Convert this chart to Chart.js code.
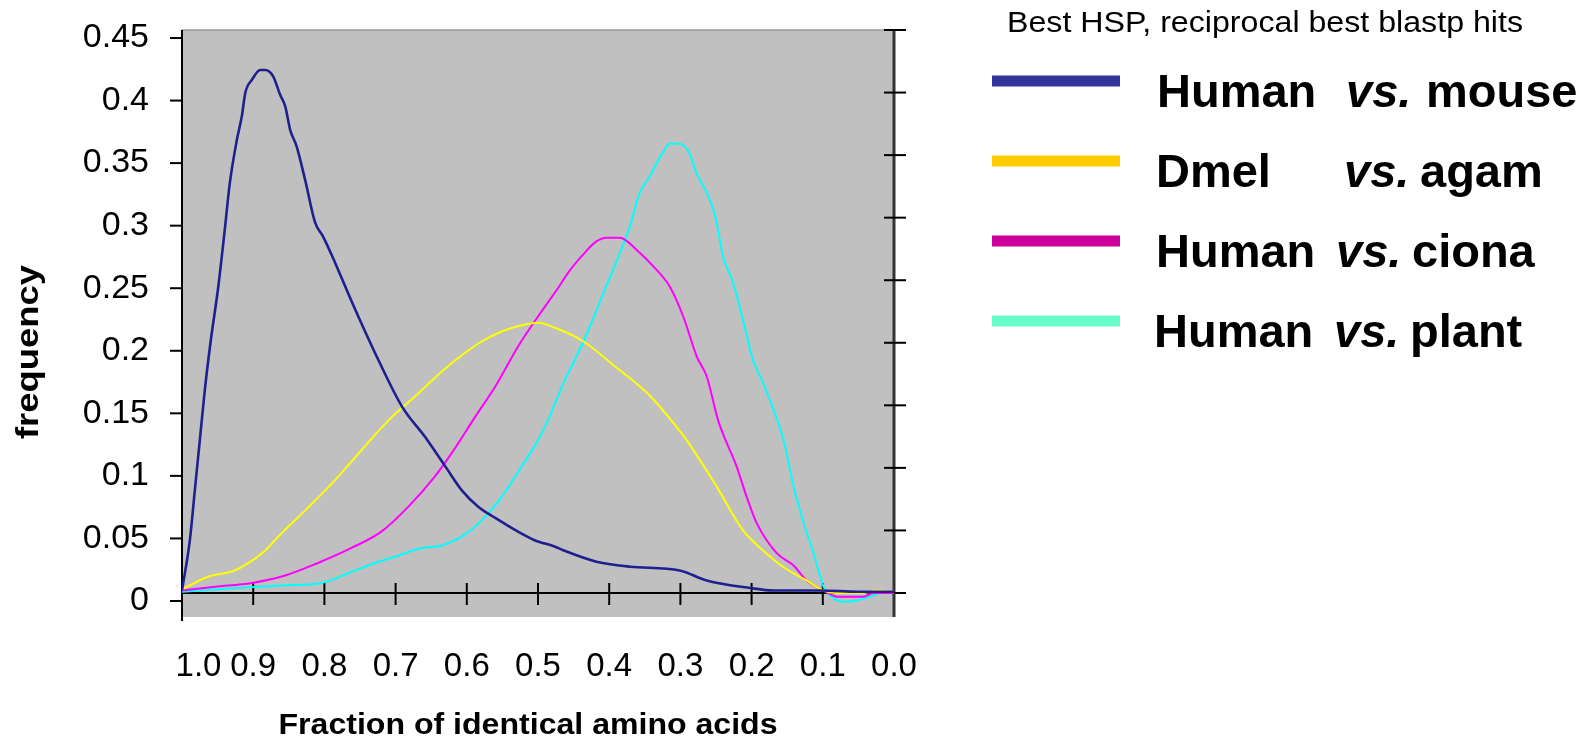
<!DOCTYPE html>
<html>
<head>
<meta charset="utf-8">
<script src="https://cdn.jsdelivr.net/npm/chart.js@4.4.1/dist/chart.umd.min.js"></script>
<style>
  html, body { margin: 0; padding: 0; background: #fff; }
  #wrap { width: 1587px; height: 740px; position: relative; }
</style>
</head>
<body>
<div id="wrap"><canvas id="grafico"></canvas></div>
<script>
// ---- datos (fracción de aminoácidos idénticos -> frecuencia) ----
const mouseX = [1.0, 0.989, 0.982, 0.975, 0.968, 0.96, 0.949, 0.94, 0.933, 0.923, 0.916, 0.911, 0.902, 0.89, 0.883, 0.872, 0.862, 0.855, 0.848, 0.839, 0.827, 0.813, 0.802, 0.785, 0.767, 0.75, 0.724, 0.691, 0.659, 0.63, 0.607, 0.584, 0.56, 0.528, 0.504, 0.476, 0.464, 0.418, 0.371, 0.301, 0.263, 0.202, 0.169, 0.103, 0.05, 0.0];
const mouseY = [0.002, 0.042, 0.082, 0.122, 0.162, 0.2, 0.245, 0.29, 0.327, 0.362, 0.381, 0.4, 0.41, 0.418, 0.418, 0.413, 0.398, 0.389, 0.37, 0.357, 0.33, 0.296, 0.285, 0.264, 0.24, 0.218, 0.186, 0.149, 0.125, 0.101, 0.082, 0.069, 0.06, 0.049, 0.042, 0.037, 0.034, 0.025, 0.021, 0.018, 0.01, 0.004, 0.002, 0.002, 0.001, 0.001];

const dmelX = [1.0, 0.963, 0.926, 0.904, 0.883, 0.865, 0.827, 0.787, 0.762, 0.71, 0.673, 0.635, 0.607, 0.579, 0.551, 0.523, 0.5, 0.476, 0.436, 0.394, 0.347, 0.31, 0.291, 0.249, 0.212, 0.184, 0.156, 0.123, 0.099, 0.08, 0.044, 0.024, 0.0];
const dmelY = [0.003, 0.013, 0.018, 0.025, 0.034, 0.045, 0.066, 0.089, 0.105, 0.138, 0.157, 0.177, 0.19, 0.201, 0.209, 0.214, 0.216, 0.212, 0.201, 0.182, 0.16, 0.136, 0.122, 0.085, 0.05, 0.034, 0.021, 0.01, 0.002, 0.0, 0.0, 0.002, 0.001];

const cionaX = [1.0, 0.954, 0.902, 0.855, 0.809, 0.762, 0.72, 0.682, 0.645, 0.621, 0.588, 0.56, 0.528, 0.5, 0.474, 0.455, 0.439, 0.418, 0.404, 0.385, 0.361, 0.333, 0.315, 0.296, 0.277, 0.263, 0.247, 0.221, 0.207, 0.193, 0.165, 0.141, 0.123, 0.099, 0.08, 0.043, 0.029, 0.0];
const cionaY = [0.002, 0.005, 0.008, 0.014, 0.024, 0.036, 0.049, 0.069, 0.093, 0.112, 0.141, 0.165, 0.197, 0.221, 0.242, 0.258, 0.269, 0.281, 0.284, 0.284, 0.274, 0.258, 0.245, 0.221, 0.189, 0.173, 0.138, 0.101, 0.077, 0.056, 0.032, 0.022, 0.01, 0.002, -0.003, -0.003, 0.0, 0.0];

const plantX = [1.0, 0.949, 0.893, 0.86, 0.804, 0.766, 0.729, 0.701, 0.663, 0.635, 0.607, 0.579, 0.551, 0.523, 0.5, 0.486, 0.464, 0.446, 0.427, 0.408, 0.389, 0.371, 0.357, 0.343, 0.324, 0.315, 0.301, 0.287, 0.277, 0.263, 0.251, 0.24, 0.226, 0.212, 0.198, 0.184, 0.155, 0.141, 0.127, 0.113, 0.099, 0.088, 0.071, 0.052, 0.029, 0.015, 0.0];
const plantY = [0.001, 0.003, 0.005, 0.006, 0.008, 0.016, 0.024, 0.029, 0.036, 0.038, 0.045, 0.058, 0.077, 0.101, 0.122, 0.138, 0.168, 0.189, 0.213, 0.24, 0.266, 0.293, 0.32, 0.333, 0.353, 0.359, 0.359, 0.351, 0.335, 0.32, 0.301, 0.269, 0.248, 0.218, 0.186, 0.168, 0.122, 0.085, 0.056, 0.032, 0.005, -0.003, -0.007, -0.006, -0.002, 0.001, 0.001];

const yTicks = [0, 0.05, 0.1, 0.15, 0.2, 0.25, 0.3, 0.35, 0.4, 0.45];
const yTickLabels = ['0', '0.05', '0.1', '0.15', '0.2', '0.25', '0.3', '0.35', '0.4', '0.45'];
const xTicks = [1.0, 0.9, 0.8, 0.7, 0.6, 0.5, 0.4, 0.3, 0.2, 0.1, 0.0];

const seriesNames = ['Human', 'Dmel', 'Human', 'Human'];
const seriesOthers = ['mouse', 'agam', 'ciona', 'plant'];
const lineColors = ['#1f1f8f', '#ffff00', '#ff00ff', '#00ffff'];
const legendColors = ['#333399', '#ffcc00', '#cc0099', '#66ffcc'];

const FONT = '"Liberation Sans", Arial, sans-serif';

function pts(xs, ys) {
  return xs.map((x, i) => ({ x: x, y: ys[i] }));
}

// texto con ancho forzado (el original está estirado)
function fitText(ctx, text, x, y, width, font, rot) {
  ctx.save();
  ctx.font = font;
  const m = ctx.measureText(text).width;
  ctx.translate(x, y);
  if (rot) ctx.rotate(rot);
  ctx.scale(width / m, 1);
  ctx.textAlign = 'left';
  ctx.textBaseline = 'alphabetic';
  ctx.fillText(text, -m / 2, 0);
  ctx.restore();
}

const decor = {
  id: 'decor',
  beforeDatasetsDraw(chart) {
    const { ctx, chartArea: a, scales } = chart;
    const x = scales.x, yl = scales.y, yr = scales.y2;
    ctx.save();
    ctx.fillStyle = '#c0c0c0';
    ctx.fillRect(a.left, a.top, a.right - a.left, a.bottom - a.top);

    // borde superior
    ctx.strokeStyle = '#9a9a9a';
    ctx.lineWidth = 1.5;
    ctx.beginPath(); ctx.moveTo(a.left, a.top); ctx.lineTo(a.right, a.top); ctx.stroke();

    ctx.strokeStyle = '#000';
    ctx.lineWidth = 2;
    // eje izquierdo
    ctx.beginPath(); ctx.moveTo(a.left, a.top); ctx.lineTo(a.left, a.bottom + 4); ctx.stroke();
    yTicks.forEach(v => {
      const py = yl.getPixelForValue(v);
      ctx.beginPath(); ctx.moveTo(a.left - 12, py); ctx.lineTo(a.left, py); ctx.stroke();
    });

    // eje x (cruza en 0 de la serie)
    const y0 = yr.getPixelForValue(0);
    ctx.beginPath(); ctx.moveTo(a.left, y0); ctx.lineTo(a.right, y0); ctx.stroke();
    xTicks.forEach(v => {
      const px = x.getPixelForValue(v);
      ctx.beginPath(); ctx.moveTo(px, y0 - 10); ctx.lineTo(px, y0 + 12); ctx.stroke();
    });

    // eje derecho
    ctx.strokeStyle = '#333';
    ctx.lineWidth = 3;
    ctx.beginPath(); ctx.moveTo(a.right, a.top); ctx.lineTo(a.right, a.bottom); ctx.stroke();
    ctx.strokeStyle = '#000';
    ctx.lineWidth = 2;
    yTicks.forEach(v => {
      const py = yr.getPixelForValue(v);
      ctx.beginPath(); ctx.moveTo(a.right - 10, py); ctx.lineTo(a.right + 12, py); ctx.stroke();
    });
    ctx.restore();
  },
  afterDraw(chart) {
    const ctx = chart.ctx;
    ctx.save();
    ctx.fillStyle = '#000';
    // títulos de ejes
    fitText(ctx, 'Fraction of identical amino acids', 528, 734, 499, 'bold 30px ' + FONT);
    fitText(ctx, 'frequency', 38, 352, 174, 'bold 31px ' + FONT, -Math.PI / 2);

    // leyenda
    fitText(ctx, 'Best HSP, reciprocal best blastp hits', 1265, 32, 516, '29px ' + FONT);
    const rows = [
      { y: 81, name: 1157, vs: 1346, other: 1426 },
      { y: 161, name: 1156, vs: 1344, other: 1420 },
      { y: 241, name: 1156, vs: 1336, other: 1412 },
      { y: 321, name: 1154, vs: 1334, other: 1410 }
    ];
    rows.forEach((r, i) => {
      ctx.fillStyle = legendColors[i];
      ctx.fillRect(992, r.y - 5.5, 128, 11);
      ctx.fillStyle = '#000';
      ctx.textAlign = 'left';
      ctx.textBaseline = 'alphabetic';
      ctx.font = 'bold 47px ' + FONT;
      ctx.fillText(seriesNames[i], r.name, r.y + 26);
      ctx.fillText(seriesOthers[i], r.other, r.y + 26);
      ctx.font = 'italic bold 47px ' + FONT;
      ctx.fillText('vs.', r.vs, r.y + 26);
    });
    ctx.restore();
  }
};

const datasets = [
  { label: 'Human vs. mouse', data: pts(mouseX, mouseY), borderColor: lineColors[0], borderWidth: 2.6 },
  { label: 'Dmel vs. agam', data: pts(dmelX, dmelY), borderColor: lineColors[1], borderWidth: 2 },
  { label: 'Human vs. ciona', data: pts(cionaX, cionaY), borderColor: lineColors[2], borderWidth: 2 },
  { label: 'Human vs. plant', data: pts(plantX, plantY), borderColor: lineColors[3], borderWidth: 2 }
].map(d => Object.assign(d, { yAxisID: 'y2', pointRadius: 0, fill: false, cubicInterpolationMode: 'monotone' }));

const config = {
  type: 'line',
  data: { datasets: datasets },
  options: {
    responsive: true,
    maintainAspectRatio: false,
    animation: false,
    layout: { padding: { top: 30, left: 0, right: 0, bottom: 0 } },
    plugins: { legend: { display: false }, tooltip: { enabled: false }, title: { display: false } },
    scales: {
      x: {
        type: 'linear', reverse: true, min: 0, max: 1, position: 'bottom',
        afterFit: s => { s.height = 123; s.paddingLeft = 0; s.paddingRight = 0; },
        afterBuildTicks: s => { s.ticks = xTicks.map(v => ({ value: v })); },
        grid: { display: false, drawTicks: false }, border: { display: false },
        ticks: {
          autoSkip: false, maxRotation: 0, padding: 30, color: '#000',
          font: { family: FONT, size: 33 },
          // la etiqueta 1.0 aparece desplazada a la derecha en el original
          callback: v => (v === 1 ? '\u2002\u2002' : '') + Number(v).toFixed(1)
        }
      },
      y: {
        type: 'linear', position: 'left', min: -0.0128, max: 0.4564,
        afterFit: s => { s.width = 182; s.paddingTop = 0; s.paddingBottom = 0; },
        afterBuildTicks: s => { s.ticks = yTicks.map(v => ({ value: v })); },
        grid: { display: false, drawTicks: false }, border: { display: false },
        ticks: {
          padding: 33, color: '#000',
          font: { family: FONT, size: 34 },
          callback: (v, i) => yTickLabels[i]
        }
      },
      y2: {
        type: 'linear', position: 'right', min: -0.0192, max: 0.45,
        afterFit: s => { s.width = 693; s.paddingTop = 0; s.paddingBottom = 0; },
        afterBuildTicks: s => { s.ticks = yTicks.map(v => ({ value: v })); },
        grid: { display: false, drawTicks: false }, border: { display: false },
        ticks: { display: false }
      }
    }
  },
  plugins: [decor]
};

new Chart(document.getElementById('grafico').getContext('2d'), config);
</script>
</body>
</html>
